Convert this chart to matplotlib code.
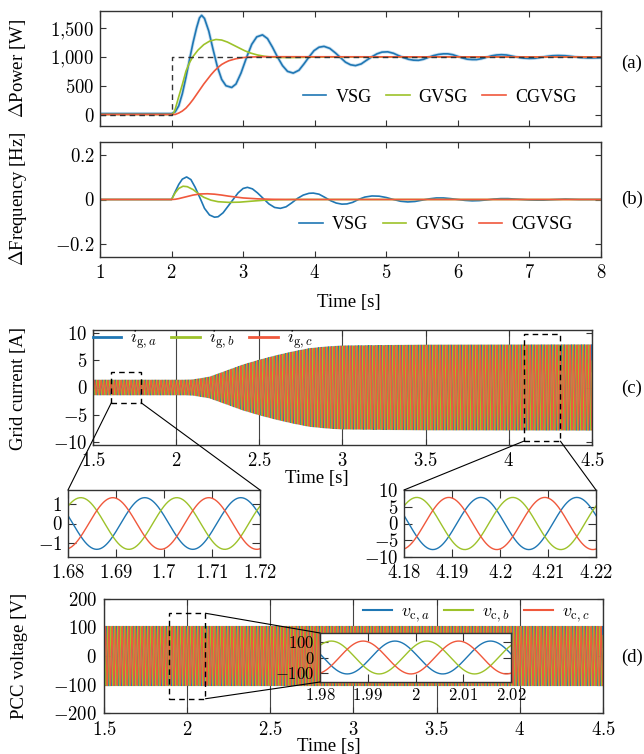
import numpy as np
import matplotlib.pyplot as plt
from matplotlib.patches import Rectangle, ConnectionPatch
from matplotlib.ticker import FuncFormatter

plt.rcParams['font.family'] = 'serif'
plt.rcParams['font.serif'] = ['Liberation Serif', 'DejaVu Serif']
plt.rcParams['mathtext.fontset'] = 'cm'
plt.rcParams['font.size'] = 13.5

# colores de las series
c_vsg = '#1f77b4'
c_gvsg = '#9dc22a'
c_cgvsg = '#f0583c'

# (a) potencia [W]
t_vsg = [1.0, 2.0, 2.05, 2.1, 2.15, 2.2, 2.25, 2.3, 2.35, 2.39, 2.42, 2.46, 2.52, 2.58, 2.64, 2.7,
         2.76, 2.84, 2.9, 2.97, 3.05, 3.12, 3.19, 3.27, 3.34, 3.41, 3.48, 3.55, 3.62, 3.7, 3.78,
         3.85, 3.92, 3.99, 4.06, 4.13, 4.21, 4.29, 4.36, 4.43, 4.5, 4.57, 4.65, 4.72, 4.8, 4.87,
         4.94, 5.02, 5.1, 5.17, 5.24, 5.31, 5.38, 5.45, 5.52, 5.59, 5.66, 5.73, 5.8, 5.86, 5.93,
         6.0, 6.06, 6.13, 6.2, 6.26, 6.33, 6.4, 6.47, 6.54, 6.61, 6.68, 6.76, 6.84, 6.92, 7.0,
         7.08, 7.16, 7.24, 7.32, 7.4, 7.5, 7.6, 7.7, 7.8, 7.9, 8.0]
p_vsg = [15, 15, 45, 150, 360, 640, 950, 1250, 1510, 1680, 1725, 1670, 1450, 1130, 830, 610,
         500, 470, 530, 720, 1000, 1220, 1350, 1385, 1320, 1170, 1000, 850, 750, 720, 770,
         880, 1000, 1110, 1170, 1185, 1150, 1070, 990, 910, 865, 850, 880, 940, 1005, 1055,
         1085, 1090, 1065, 1025, 990, 960, 945, 942, 960, 995, 1025, 1045, 1055, 1055, 1040,
         1010, 985, 962, 955, 955, 970, 995, 1020, 1035, 1040, 1035, 1015, 995, 980, 975,
         978, 995, 1010, 1022, 1026, 1022, 1008, 993, 985, 984, 990]
t_gvsg = [1.0, 2.0, 2.03, 2.05, 2.1, 2.15, 2.2, 2.25, 2.3, 2.37, 2.45, 2.53, 2.62, 2.7, 2.78,
          2.86, 2.94, 3.02, 3.1, 3.2, 3.3, 3.4, 3.5, 3.65, 3.8, 4.0, 4.3, 8.0]
p_gvsg = [0, 0, 30, 90, 310, 520, 750, 900, 1010, 1121, 1215, 1275, 1305, 1295, 1260,
          1210, 1160, 1110, 1070, 1035, 1012, 998, 992, 990, 993, 998, 1001, 1000]
t_cgvsg = [1.0, 2.05, 2.1, 2.15, 2.2, 2.25, 2.3, 2.35, 2.4, 2.45, 2.5, 2.55, 2.6, 2.65, 2.7,
           2.75, 2.8, 2.9, 3.0, 3.1, 3.3, 8.0]
p_cgvsg = [0, 0, 25, 60, 110, 180, 260, 350, 440, 530, 610, 690, 760, 820, 870,
           905, 935, 970, 990, 1000, 1005, 1000]
t_ref = [1.0, 2.0, 2.0, 8.0]
p_ref = [0, 0, 1000, 1000]

# (b) frecuencia [Hz]
tf_vsg = [1.0, 2.0, 2.05, 2.1, 2.15, 2.21, 2.27, 2.33, 2.4, 2.46, 2.53, 2.6, 2.65, 2.72, 2.79,
          2.86, 2.93, 3.0, 3.06, 3.13, 3.2, 3.28, 3.36, 3.44, 3.52, 3.6, 3.68, 3.76, 3.84, 3.92,
          3.98, 4.06, 4.14, 4.22, 4.3, 4.38, 4.45, 4.53, 4.61, 4.7, 4.8, 4.9, 5.0, 5.1, 5.2,
          5.3, 5.4, 5.5, 5.6, 5.7, 5.8, 5.9, 6.0, 6.1, 6.2, 6.3, 6.4, 6.5, 6.6, 6.7, 6.8, 6.9,
          7.0, 7.1, 7.2, 7.3, 7.5, 7.7, 8.0]
f_vsg = [0, 0, 0.035, 0.068, 0.092, 0.102, 0.09, 0.055, 0.005, -0.04, -0.07, -0.08, -0.078,
         -0.06, -0.03, 0.0, 0.03, 0.05, 0.055, 0.048, 0.03, 0.005, -0.02, -0.036, -0.04, -0.033,
         -0.015, 0.005, 0.02, 0.028, 0.029, 0.024, 0.01, -0.005, -0.016, -0.021, -0.02, -0.013,
         0.0, 0.011, 0.016, 0.015, 0.009, 0.0, -0.008, -0.011, -0.009, -0.003, 0.003, 0.007,
         0.007, 0.004, 0.0, -0.004, -0.006, -0.005, -0.002, 0.002, 0.004, 0.004, 0.002, 0.0,
         -0.002, -0.003, -0.003, -0.001, 0.002, 0.0, 0.0]
tf_gvsg = [1.0, 2.0, 2.05, 2.1, 2.16, 2.22, 2.3, 2.38, 2.45, 2.55, 2.65, 2.8, 2.95, 3.1, 3.3,
           3.5, 3.7, 8.0]
f_gvsg = [0, 0, 0.03, 0.05, 0.06, 0.058, 0.045, 0.025, 0.01, -0.003, -0.01, -0.013, -0.012,
          -0.008, -0.003, -0.001, 0, 0]
tf_cgvsg = [1.0, 2.0, 2.05, 2.1, 2.2, 2.3, 2.4, 2.5, 2.6, 2.7, 2.8, 2.9, 3.0, 3.2, 3.4, 3.6, 8.0]
f_cgvsg = [0, 0, 0.001, 0.004, 0.012, 0.02, 0.025, 0.026, 0.024, 0.02, 0.015, 0.011, 0.007,
           0.003, 0.001, 0, 0]

# (c), (d) envolventes de las senales trifasicas
f_red = 50.0
env_t = [1.5, 2.05, 2.1, 2.2, 2.3, 2.4, 2.5, 2.6, 2.7, 2.8, 2.9, 3.0, 3.5, 4.5]
env_i = [1.35, 1.35, 1.4, 1.9, 3.0, 4.1, 5.0, 5.8, 6.5, 7.1, 7.4, 7.6, 7.75, 7.8]
i_peak = 0.016   # instante de maximo de la fase a (mod 20 ms)
env_v_t = [1.5, 4.5]
env_v = [104, 104]
v_peak = 0.0157

W, H = 644, 754
fig = plt.figure(figsize=(W / 100, H / 100), dpi=100)


def px_axes(l, t, r, b):
    return fig.add_axes([l / W, 1 - b / H, (r - l) / W, (b - t) / H])


def fmt(v, pos=None):
    if abs(v) < 1e-9:
        v = 0
    if abs(v) >= 1000:
        s = f'{v:,.0f}'.replace(',', '{,}')
    else:
        s = f'{v:.2f}'.rstrip('0').rstrip('.')
    return f'${s}$'


def style(ax, tl=4.5, size=13.5):
    ax.tick_params(direction='in', top=True, right=True, length=tl, width=0.8,
                   color='#333333', labelsize=size)
    ax.tick_params(axis='x', pad=5)
    ax.tick_params(axis='y', pad=4)
    for s in ax.spines.values():
        s.set_linewidth(1.0)
        s.set_color('#333333')
    ax.xaxis.set_major_formatter(FuncFormatter(fmt))
    ax.yaxis.set_major_formatter(FuncFormatter(fmt))


# ---- (a)
ax_a = px_axes(100, 11, 601, 126)
ax_a.plot(t_vsg, p_vsg, color='#8dbde0', lw=2.4, alpha=0.45)
ax_a.plot(t_vsg, p_vsg, color=c_vsg, lw=1.2, label='VSG')
ax_a.plot(t_gvsg, p_gvsg, color=c_gvsg, lw=1.2, label='GVSG')
ax_a.plot(t_cgvsg, p_cgvsg, color=c_cgvsg, lw=1.2, label='CGVSG')
ax_a.plot(t_ref, p_ref, color='#333333', lw=1.0, ls=(0, (4, 3)), zorder=5)
ax_a.set_xlim(1, 8)
ax_a.set_ylim(-200, 1800)
ax_a.set_xticks(range(1, 9))
ax_a.set_yticks([0, 500, 1000, 1500])
style(ax_a)
ax_a.tick_params(labelbottom=False)
ax_a.legend(loc='center', bbox_to_anchor=(0.678, 0.252), ncol=3, frameon=False,
            handlelength=1.3, handletextpad=0.5, columnspacing=0.8, borderpad=0, fontsize=13)
fig.text(18 / W, 1 - 68 / H, r'$\Delta$Power [W]', rotation=90, ha='center', va='center')
fig.text(632 / W, 1 - 63 / H, '(a)', ha='center', va='center')

# ---- (b)
ax_b = px_axes(100, 142, 601, 257)
ax_b.plot(tf_vsg, f_vsg, color=c_vsg, lw=1.2, label='VSG')
ax_b.plot(tf_gvsg, f_gvsg, color=c_gvsg, lw=1.2, label='GVSG')
ax_b.plot(tf_cgvsg, f_cgvsg, color=c_cgvsg, lw=1.2, label='CGVSG')
ax_b.set_xlim(1, 8)
ax_b.set_ylim(-0.26, 0.26)
ax_b.set_xticks(range(1, 9))
ax_b.set_yticks([-0.2, 0, 0.2])
style(ax_b)
ax_b.legend(loc='center', bbox_to_anchor=(0.671, 0.28), ncol=3, frameon=False,
            handlelength=1.3, handletextpad=0.5, columnspacing=0.8, borderpad=0, fontsize=13)
fig.text(18 / W, 1 - 199 / H, r'$\Delta$Frequency [Hz]', rotation=90, ha='center', va='center')
fig.text(349 / W, 1 - 302 / H, 'Time [s]', ha='center', va='center')
fig.text(632 / W, 1 - 199 / H, '(b)', ha='center', va='center')

# ---- (c) corriente de red
tc = np.arange(1.5, 4.5, 1 / (f_red * 100))
amp_i = np.interp(tc, env_t, env_i)
ph_i = 2 * np.pi * f_red * (tc - i_peak)
i_abc = [amp_i * np.cos(ph_i), amp_i * np.cos(ph_i - 2 * np.pi / 3), amp_i * np.cos(ph_i + 2 * np.pi / 3)]
lab_i = [r'$i_{\mathrm{g},a}$', r'$i_{\mathrm{g},b}$', r'$i_{\mathrm{g},c}$']
cols = [c_vsg, c_gvsg, c_cgvsg]

ax_c = px_axes(93, 330, 592, 445)
for y, c, lab in zip(i_abc, cols, lab_i):
    ax_c.plot(tc, y, color=c, lw=0.8, label=lab)
ax_c.set_xlim(1.5, 4.5)
ax_c.set_ylim(-10.5, 10.5)
ax_c.set_xticks(np.arange(1.5, 4.51, 0.5))
ax_c.set_yticks([-10, -5, 0, 5, 10])
style(ax_c)
ax_c.grid(axis='x', color='#444444', lw=0.8)
ax_c.set_axisbelow(True)
leg = ax_c.legend(loc='center', bbox_to_anchor=(0.22, 0.913), ncol=3, frameon=False,
                  handlelength=1.6, handletextpad=0.5, columnspacing=0.8, borderpad=0, fontsize=13)
for h in leg.legend_handles:
    h.set_linewidth(2.0)
fig.text(19 / W, 1 - 388 / H, 'Grid current [A]', rotation=90, ha='center', va='center')
fig.text(317 / W, 1 - 479 / H, 'Time [s]', ha='center', va='center')
fig.text(632 / W, 1 - 388 / H, '(c)', ha='center', va='center')

ax_c.add_patch(Rectangle((1.61, -2.8), 0.18, 5.6, fill=False, ec='k', lw=1.0, ls=(0, (4, 3)), zorder=6))
ax_c.add_patch(Rectangle((4.09, -9.8), 0.22, 19.6, fill=False, ec='k', lw=1.0, ls=(0, (4, 3)), zorder=6))

ax_c1 = px_axes(68, 490, 260, 557)
for y, c in zip(i_abc, cols):
    ax_c1.plot(tc, y, color=c, lw=1.0)
ax_c1.set_xlim(1.68, 1.72)
ax_c1.set_ylim(-1.75, 1.75)
ax_c1.set_xticks([1.68, 1.69, 1.7, 1.71, 1.72])
ax_c1.set_yticks([-1, 0, 1])
style(ax_c1, tl=6)

ax_c2 = px_axes(404, 490, 596, 557)
for y, c in zip(i_abc, cols):
    ax_c2.plot(tc, y, color=c, lw=1.0)
ax_c2.set_xlim(4.18, 4.22)
ax_c2.set_ylim(-10, 10)
ax_c2.set_xticks([4.18, 4.19, 4.2, 4.21, 4.22])
ax_c2.set_yticks([-10, -5, 0, 5, 10])
style(ax_c2, tl=6)

for xa, xb in [((1.61, -2.8), (0, 1)), ((1.79, -2.8), (1, 1))]:
    fig.add_artist(ConnectionPatch(xyA=xa, coordsA=ax_c.transData, xyB=xb, coordsB=ax_c1.transAxes,
                                   color='k', lw=0.8))
for xa, xb in [((4.09, -9.8), (0, 1)), ((4.31, -9.8), (1, 1))]:
    fig.add_artist(ConnectionPatch(xyA=xa, coordsA=ax_c.transData, xyB=xb, coordsB=ax_c2.transAxes,
                                   color='k', lw=0.8))

# ---- (d) tension en el PCC
amp_v = np.interp(tc, env_v_t, env_v)
ph_v = 2 * np.pi * f_red * (tc - v_peak)
v_abc = [amp_v * np.cos(ph_v), amp_v * np.cos(ph_v - 2 * np.pi / 3), amp_v * np.cos(ph_v + 2 * np.pi / 3)]
lab_v = [r'$v_{\mathrm{c},a}$', r'$v_{\mathrm{c},b}$', r'$v_{\mathrm{c},c}$']

ax_d = px_axes(104, 599, 603, 713)
for y, c, lab in zip(v_abc, cols, lab_v):
    ax_d.plot(tc, y, color=c, lw=0.8, label=lab)
ax_d.set_xlim(1.5, 4.5)
ax_d.set_ylim(-200, 200)
ax_d.set_xticks(np.arange(1.5, 4.51, 0.5))
ax_d.set_yticks([-200, -100, 0, 100, 200])
style(ax_d)
ax_d.tick_params(axis='x', pad=5.5)
ax_d.tick_params(axis='y', pad=5)
ax_d.grid(axis='x', color='#444444', lw=0.8)
ax_d.set_axisbelow(True)
leg = ax_d.legend(loc='center', bbox_to_anchor=(0.746, 0.875), ncol=3, frameon=False,
                  handlelength=1.6, handletextpad=0.5, columnspacing=0.8, borderpad=0, fontsize=13)
for h in leg.legend_handles:
    h.set_linewidth(1.5)
fig.text(20 / W, 1 - 656 / H, 'PCC voltage [V]', rotation=90, ha='center', va='center')
fig.text(329 / W, 1 - 747 / H, 'Time [s]', ha='center', va='center')
fig.text(632 / W, 1 - 657 / H, '(d)', ha='center', va='center')

ax_d.add_patch(Rectangle((1.89, -150), 0.22, 300, fill=False, ec='k', lw=1.0, ls=(0, (4, 3)), zorder=6))

ax_d1 = px_axes(320, 633, 511, 682)
for y, c in zip(v_abc, cols):
    ax_d1.plot(tc, y, color=c, lw=1.0)
ax_d1.set_xlim(1.98, 2.02)
ax_d1.set_ylim(-155, 155)
ax_d1.set_xticks([1.98, 1.99, 2.0, 2.01, 2.02])
ax_d1.set_yticks([-100, 0, 100])
style(ax_d1, tl=6, size=12)
ax_d1.tick_params(axis='x', pad=4)

for xa, xb in [((2.11, 150), (0, 1)), ((2.11, -150), (0, 0))]:
    fig.add_artist(ConnectionPatch(xyA=xa, coordsA=ax_d.transData, xyB=xb, coordsB=ax_d1.transAxes,
                                   color='k', lw=0.8))

fig.savefig('out.png', dpi=100)
